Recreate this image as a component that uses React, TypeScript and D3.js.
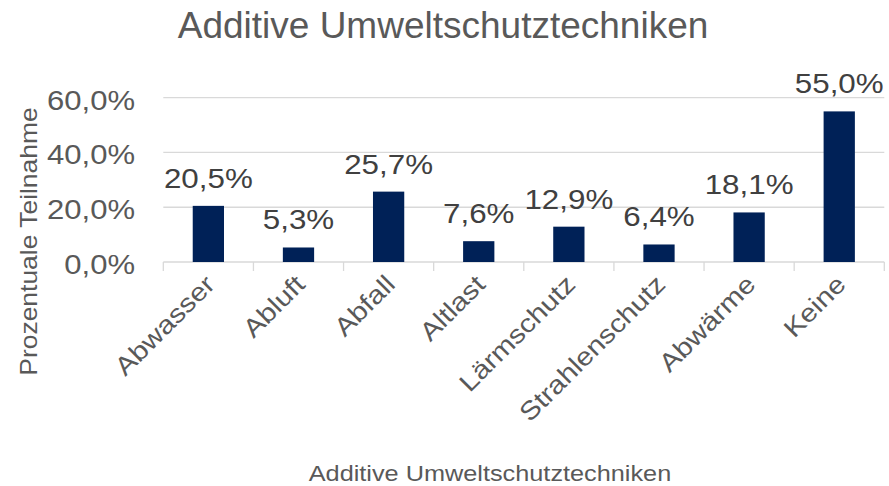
import React from "react";
import * as d3 from "d3";

const categories = ["Abwasser", "Abluft", "Abfall", "Altlast", "Lärmschutz", "Strahlenschutz", "Abwärme", "Keine"];
const values = [20.5, 5.3, 25.7, 7.6, 12.9, 6.4, 18.1, 55.0];
const yTicks = [0, 20, 40, 60];
const title = "Additive Umweltschutztechniken";
const xTitle = "Additive Umweltschutztechniken";
const yTitle = "Prozentuale Teilnahme";

const W = 889;
const H = 486;
const FONT = "'Liberation Sans', Arial, sans-serif";
const SX = 1.15;

const fmt = (v: number) => v.toFixed(1).replace(".", ",") + "%";

export default function App() {
  const x = d3.scaleBand<string>().domain(categories).range([163.3, 884.3]).padding(0);
  const y = d3.scaleLinear().domain([0, 60]).range([262, 97.7]);
  const bw = x.bandwidth() * 0.347;
  const boundaries = [...categories.map((c) => x(c) as number), 884.3];

  const T = (props: {
    x: number; y: number; r?: number; sx?: number; size: number; anchor?: string; fill?: string; children: React.ReactNode;
  }) => (
    <text
      transform={`translate(${props.x},${props.y}) rotate(${props.r ?? 0}) scale(${props.sx ?? SX},1)`}
      fontSize={props.size}
      fontFamily={FONT}
      textAnchor={props.anchor ?? "start"}
      fill={props.fill ?? "#595959"}
    >
      {props.children}
    </text>
  );

  return (
    <svg width={W} height={H} style={{ position: "absolute", left: 0, top: 0, background: "#fff" }}>
      {/* gridlines */}
      {yTicks.map((t) => (
        <line key={t} x1={163.3} x2={884.3} y1={y(t)} y2={y(t)} stroke="#d9d9d9" strokeWidth={1.3} />
      ))}
      {/* x tick marks */}
      {boundaries.map((b, i) => (
        <line key={i} x1={b} x2={b} y1={y(0)} y2={y(0) + 9} stroke="#d9d9d9" strokeWidth={1.3} />
      ))}
      {/* bars */}
      {categories.map((c, i) => (
        <rect
          key={c}
          x={(x(c) as number) + x.bandwidth() / 2 - bw / 2}
          y={y(values[i])}
          width={bw}
          height={y(0) - y(values[i])}
          fill="#002157"
        />
      ))}
      {/* data labels */}
      {categories.map((c, i) => (
        <T key={c} x={(x(c) as number) + x.bandwidth() / 2} y={y(values[i]) - 18} size={28} sx={1.12} anchor="middle" fill="#404040">
          {fmt(values[i])}
        </T>
      ))}
      {/* y tick labels */}
      {yTicks.map((t) => (
        <T key={t} x={135} y={y(t) + 12} size={27} anchor="end">
          {fmt(t)}
        </T>
      ))}
      {/* category labels */}
      {categories.map((c) => (
        <T key={c} x={(x(c) as number) + x.bandwidth() / 2 + 8} y={286} r={-45} size={25.5} anchor="end">
          {c}
        </T>
      ))}
      {/* titles */}
      <T x={443} y={38} size={37} sx={1.0} anchor="middle">{title}</T>
      <T x={490} y={481} size={22} anchor="middle">{xTitle}</T>
      <T x={37} y={241.5} r={-90} size={23} anchor="middle">{yTitle}</T>
    </svg>
  );
}
